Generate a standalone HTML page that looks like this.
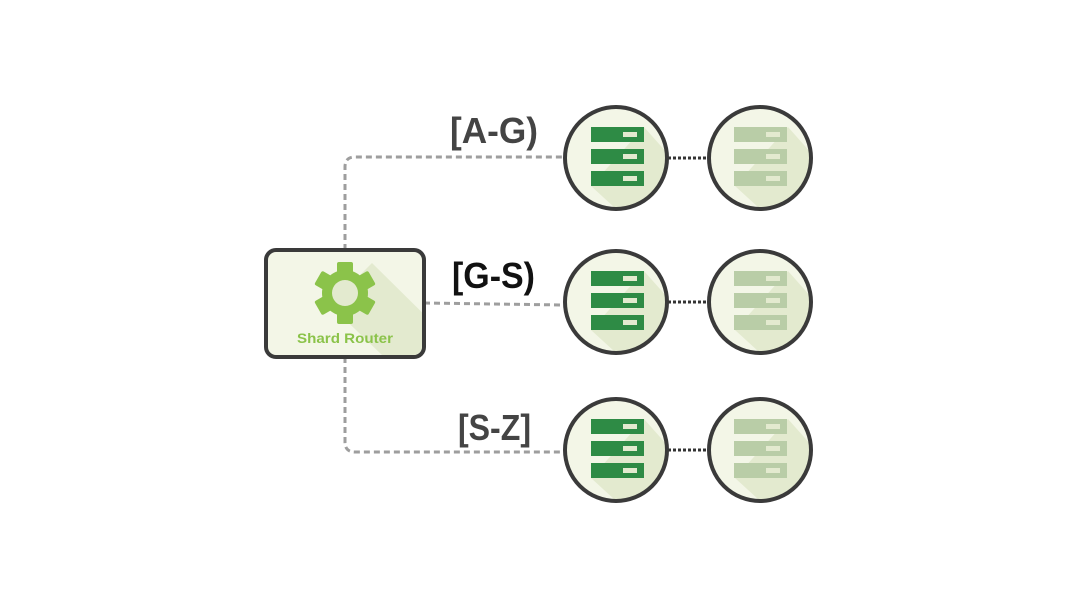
<!DOCTYPE html>
<html><head><style>html,body{margin:0;padding:0;background:#fff}svg{display:block}</style></head>
<body>
<svg width="1080" height="608" viewBox="0 0 1080 608" xmlns="http://www.w3.org/2000/svg">
<defs>
<clipPath id="cr"><rect x="268" y="252" width="154" height="103" rx="9"/></clipPath>
<g id="srv">
  <circle cx="0" cy="0" r="50" fill="#f3f6e7"/>
  <clipPath id="cc"><circle cx="0" cy="0" r="50"/></clipPath>
</g>
</defs>
<g fill="none" stroke="#9e9e9e" stroke-width="3" stroke-dasharray="6 4">
  <path d="M345 250 V167 Q345 157 355 157 H564"/>
  <path d="M424 303 L564 305"/>
  <path d="M345 357 V442 Q345 452 355 452 H564"/>
</g>
<g stroke="#333" stroke-width="3" stroke-dasharray="3 2">
  <line x1="668" y1="158" x2="708" y2="158"/>
  <line x1="668" y1="302" x2="708" y2="302"/>
  <line x1="668" y1="450" x2="708" y2="450"/>
</g>
<!-- router -->
<rect x="266" y="250" width="158" height="107" rx="10" fill="#f3f6e7" stroke="#3a3a3a" stroke-width="4"/>
<polygon points="330,305 372,263 450,340 408,380" fill="#e3eacf" clip-path="url(#cr)"/>
<g transform="translate(345,293)" fill="#8bc34a">
  <g id="teeth">
    <rect x="-8" y="-31" width="16" height="14" rx="2"/>
    <rect x="-8" y="-31" width="16" height="14" rx="2" transform="rotate(60)"/>
    <rect x="-8" y="-31" width="16" height="14" rx="2" transform="rotate(120)"/>
    <rect x="-8" y="-31" width="16" height="14" rx="2" transform="rotate(180)"/>
    <rect x="-8" y="-31" width="16" height="14" rx="2" transform="rotate(240)"/>
    <rect x="-8" y="-31" width="16" height="14" rx="2" transform="rotate(300)"/>
  </g>
  <circle r="23"/>
  <circle r="13" fill="#e3eacf"/>
</g>
<text x="345" y="343" text-anchor="middle" font-family="Liberation Sans, sans-serif" font-size="14" font-weight="bold" fill="#8bc34a" textLength="96" lengthAdjust="spacingAndGlyphs">Shard Router</text>
<!-- labels -->
<g font-family="Liberation Sans, sans-serif" font-weight="bold" font-size="36">
<text x="450" y="143" fill="#444" textLength="88" lengthAdjust="spacingAndGlyphs">[A-G)</text>
<text x="452" y="288" fill="#111" textLength="83" lengthAdjust="spacingAndGlyphs">[G-S)</text>
<text x="458" y="440" fill="#444" textLength="73" lengthAdjust="spacingAndGlyphs">[S-Z]</text>
</g>
<!-- servers -->
<g id="s1">
<clipPath id="c1"><circle cx="616" cy="158" r="50"/></clipPath>
<circle cx="616" cy="158" r="51" fill="#f3f6e7"/>
<polygon points="591,186 644,127 700,190 650,240" fill="#e3eacf" clip-path="url(#c1)"/>
<circle cx="616" cy="158" r="51" fill="none" stroke="#3a3a3a" stroke-width="4"/>
</g>
<g transform="translate(0,144)"><use href="#s1"/></g>
<g transform="translate(0,292)"><use href="#s1"/></g>
<g transform="translate(144,0)"><use href="#s1"/></g>
<g transform="translate(144,144)"><use href="#s1"/></g>
<g transform="translate(144,292)"><use href="#s1"/></g>
<g id="bars">
  <rect x="591" y="127" width="53" height="15" fill="#2e8b45"/>
  <rect x="591" y="149" width="53" height="15" fill="#2e8b45"/>
  <rect x="591" y="171" width="53" height="15" fill="#2e8b45"/>
  <rect x="623" y="132" width="14" height="5" fill="#e3eacf"/>
  <rect x="623" y="154" width="14" height="5" fill="#e3eacf"/>
  <rect x="623" y="176" width="14" height="5" fill="#e3eacf"/>
</g>
<g transform="translate(0,144)"><use href="#bars"/></g>
<g transform="translate(0,292)"><use href="#bars"/></g>
<g id="lbars">
  <rect x="734" y="127" width="53" height="15" fill="#b9cda7"/>
  <rect x="734" y="149" width="53" height="15" fill="#b9cda7"/>
  <rect x="734" y="171" width="53" height="15" fill="#b9cda7"/>
  <rect x="766" y="132" width="14" height="5" fill="#e3eacf"/>
  <rect x="766" y="154" width="14" height="5" fill="#e3eacf"/>
  <rect x="766" y="176" width="14" height="5" fill="#e3eacf"/>
</g>
<g transform="translate(0,144)"><use href="#lbars"/></g>
<g transform="translate(0,292)"><use href="#lbars"/></g>
</svg>
</body></html>
